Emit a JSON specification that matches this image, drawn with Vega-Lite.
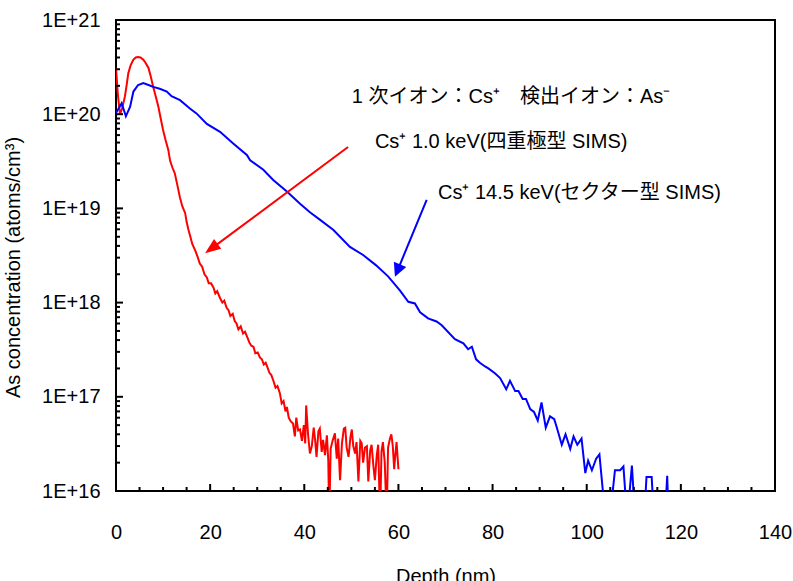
{
  "$schema": "https://vega.github.io/schema/vega-lite/v6.json",
  "width": 659,
  "height": 471,
  "autosize": "none",
  "padding": {"left": 116, "top": 20, "right": 18, "bottom": 90},
  "background": "white",
  "config": {
    "view": {"stroke": "black", "strokeWidth": 2},
    "font": "Liberation Sans, Noto Sans CJK JP"
  },
  "resolve": {"axis": {"x": "independent", "y": "independent"}},
  "datasets": {
    "profiles": [
      {"series": "quad", "depth": 0, "conc": 3.1e20},
      {"series": "quad", "depth": 0.4, "conc": 1.6e20},
      {"series": "quad", "depth": 0.85, "conc": 1.0e20},
      {"series": "quad", "depth": 1.3, "conc": 1.15e20},
      {"series": "quad", "depth": 1.9, "conc": 1.55e20},
      {"series": "quad", "depth": 2.3, "conc": 2.1e20},
      {"series": "quad", "depth": 2.6, "conc": 2.7e20},
      {"series": "quad", "depth": 3.1, "conc": 3.3e20},
      {"series": "quad", "depth": 3.7, "conc": 3.8e20},
      {"series": "quad", "depth": 4.2, "conc": 4.0e20},
      {"series": "quad", "depth": 4.7, "conc": 4.05e20},
      {"series": "quad", "depth": 5.2, "conc": 4.0e20},
      {"series": "quad", "depth": 5.8, "conc": 3.8e20},
      {"series": "quad", "depth": 6.3, "conc": 3.5e20},
      {"series": "quad", "depth": 6.9, "conc": 3.1e20},
      {"series": "quad", "depth": 7.4, "conc": 2.5e20},
      {"series": "quad", "depth": 7.9, "conc": 1.95e20},
      {"series": "quad", "depth": 8.5, "conc": 1.5e20},
      {"series": "quad", "depth": 9.0, "conc": 1.2e20},
      {"series": "quad", "depth": 9.5, "conc": 9.0e19},
      {"series": "quad", "depth": 10.0, "conc": 6.8e19},
      {"series": "quad", "depth": 10.5, "conc": 5.4e19},
      {"series": "quad", "depth": 11.1, "conc": 4.2e19},
      {"series": "quad", "depth": 11.5, "conc": 3.2e19},
      {"series": "quad", "depth": 12.0, "conc": 2.7e19},
      {"series": "quad", "depth": 12.5, "conc": 2.35e19},
      {"series": "quad", "depth": 13.0, "conc": 1.8e19},
      {"series": "quad", "depth": 13.6, "conc": 1.3e19},
      {"series": "quad", "depth": 14.1, "conc": 1.05e19},
      {"series": "quad", "depth": 14.7, "conc": 8.9e18},
      {"series": "quad", "depth": 15.0, "conc": 7.2e18},
      {"series": "quad", "depth": 15.4, "conc": 5.9e18},
      {"series": "quad", "depth": 15.8, "conc": 5.0e18},
      {"series": "quad", "depth": 16.2, "conc": 4.2e18},
      {"series": "quad", "depth": 16.8, "conc": 3.6e18},
      {"series": "quad", "depth": 17.3, "conc": 3.1e18},
      {"series": "quad", "depth": 17.8, "conc": 2.6e18},
      {"series": "quad", "depth": 18.3, "conc": 2.4e18},
      {"series": "quad", "depth": 18.8, "conc": 2.0e18},
      {"series": "quad", "depth": 19.3, "conc": 1.85e18},
      {"series": "quad", "depth": 19.7, "conc": 1.6e18},
      {"series": "quad", "depth": 20.2, "conc": 1.6e18},
      {"series": "quad", "depth": 20.7, "conc": 1.45e18},
      {"series": "quad", "depth": 21.1, "conc": 1.25e18},
      {"series": "quad", "depth": 21.5, "conc": 1.32e18},
      {"series": "quad", "depth": 22.1, "conc": 1.12e18},
      {"series": "quad", "depth": 22.6, "conc": 1.0e18},
      {"series": "quad", "depth": 23.0, "conc": 1.05e18},
      {"series": "quad", "depth": 23.5, "conc": 8.8e17},
      {"series": "quad", "depth": 23.9, "conc": 8.3e17},
      {"series": "quad", "depth": 24.3, "conc": 7.2e17},
      {"series": "quad", "depth": 24.8, "conc": 7.6e17},
      {"series": "quad", "depth": 25.2, "conc": 6.4e17},
      {"series": "quad", "depth": 25.6, "conc": 6.0e17},
      {"series": "quad", "depth": 26.0, "conc": 5.2e17},
      {"series": "quad", "depth": 26.5, "conc": 5.6e17},
      {"series": "quad", "depth": 27.0, "conc": 4.7e17},
      {"series": "quad", "depth": 27.4, "conc": 4.9e17},
      {"series": "quad", "depth": 27.8, "conc": 4.4e17},
      {"series": "quad", "depth": 28.3, "conc": 3.8e17},
      {"series": "quad", "depth": 28.7, "conc": 3.5e17},
      {"series": "quad", "depth": 29.2, "conc": 3.4e17},
      {"series": "quad", "depth": 29.6, "conc": 2.9e17},
      {"series": "quad", "depth": 30.1, "conc": 2.95e17},
      {"series": "quad", "depth": 30.6, "conc": 2.6e17},
      {"series": "quad", "depth": 31.0, "conc": 2.5e17},
      {"series": "quad", "depth": 31.4, "conc": 2.2e17},
      {"series": "quad", "depth": 31.8, "conc": 2.3e17},
      {"series": "quad", "depth": 32.1, "conc": 2.1e17},
      {"series": "quad", "depth": 32.6, "conc": 1.8e17},
      {"series": "quad", "depth": 33.0, "conc": 1.7e17},
      {"series": "quad", "depth": 33.4, "conc": 1.5e17},
      {"series": "quad", "depth": 33.9, "conc": 1.25e17},
      {"series": "quad", "depth": 34.3, "conc": 1.3e17},
      {"series": "quad", "depth": 34.8, "conc": 1.1e17},
      {"series": "quad", "depth": 35.2, "conc": 8.5e16},
      {"series": "quad", "depth": 35.6, "conc": 9.0e16},
      {"series": "quad", "depth": 36.0, "conc": 7.0e16},
      {"series": "quad", "depth": 36.3, "conc": 7.8e16},
      {"series": "quad", "depth": 36.7, "conc": 6.0e16},
      {"series": "quad", "depth": 37.1, "conc": 5.5e16},
      {"series": "quad", "depth": 37.6, "conc": 5.2e16},
      {"series": "quad", "depth": 38.0, "conc": 3.8e16},
      {"series": "quad", "depth": 38.3, "conc": 6.0e16},
      {"series": "quad", "depth": 38.7, "conc": 4.4e16},
      {"series": "quad", "depth": 39.1, "conc": 4.5e16},
      {"series": "quad", "depth": 39.5, "conc": 3.4e16},
      {"series": "quad", "depth": 39.9, "conc": 5.0e16},
      {"series": "quad", "depth": 40.2, "conc": 3.2e16},
      {"series": "quad", "depth": 40.4, "conc": 8.1e16},
      {"series": "quad", "depth": 40.8, "conc": 4.0e16},
      {"series": "quad", "depth": 41.2, "conc": 2.5e16},
      {"series": "quad", "depth": 41.6, "conc": 3.0e16},
      {"series": "quad", "depth": 42.0, "conc": 4.7e16},
      {"series": "quad", "depth": 42.3, "conc": 3.5e16},
      {"series": "quad", "depth": 42.6, "conc": 2.3e16},
      {"series": "quad", "depth": 43.0, "conc": 4.3e16},
      {"series": "quad", "depth": 43.3, "conc": 4.6e16},
      {"series": "quad", "depth": 43.7, "conc": 2.6e16},
      {"series": "quad", "depth": 44.0, "conc": 3.5e16},
      {"series": "quad", "depth": 44.4, "conc": 2.4e16},
      {"series": "quad", "depth": 44.8, "conc": 3.9e16},
      {"series": "quad", "depth": 45.1, "conc": 2.1e16},
      {"series": "quad", "depth": 45.3, "conc": 5e15},
      {"series": "quad", "depth": 45.6, "conc": 2.8e16},
      {"series": "quad", "depth": 46.0, "conc": 3.4e16},
      {"series": "quad", "depth": 46.5, "conc": 4.1e16},
      {"series": "quad", "depth": 46.9, "conc": 2.2e16},
      {"series": "quad", "depth": 47.2, "conc": 3.6e16},
      {"series": "quad", "depth": 47.6, "conc": 1.3e16},
      {"series": "quad", "depth": 48.0, "conc": 3.2e16},
      {"series": "quad", "depth": 48.4, "conc": 4.6e16},
      {"series": "quad", "depth": 48.7, "conc": 4.7e16},
      {"series": "quad", "depth": 49.0, "conc": 2.9e16},
      {"series": "quad", "depth": 49.4, "conc": 2.3e16},
      {"series": "quad", "depth": 49.8, "conc": 3.7e16},
      {"series": "quad", "depth": 50.1, "conc": 4.5e16},
      {"series": "quad", "depth": 50.4, "conc": 3.0e16},
      {"series": "quad", "depth": 50.8, "conc": 2.5e16},
      {"series": "quad", "depth": 51.1, "conc": 3.3e16},
      {"series": "quad", "depth": 51.5, "conc": 1.26e16},
      {"series": "quad", "depth": 51.9, "conc": 3.4e16},
      {"series": "quad", "depth": 52.2, "conc": 3.2e16},
      {"series": "quad", "depth": 52.5, "conc": 2.0e16},
      {"series": "quad", "depth": 52.9, "conc": 2.9e16},
      {"series": "quad", "depth": 53.3, "conc": 3.0e16},
      {"series": "quad", "depth": 53.6, "conc": 1.26e16},
      {"series": "quad", "depth": 54.0, "conc": 2.7e16},
      {"series": "quad", "depth": 54.3, "conc": 3.1e16},
      {"series": "quad", "depth": 54.7, "conc": 1.8e16},
      {"series": "quad", "depth": 55.0, "conc": 1.3e16},
      {"series": "quad", "depth": 55.4, "conc": 2.4e16},
      {"series": "quad", "depth": 55.7, "conc": 3.1e16},
      {"series": "quad", "depth": 56.1, "conc": 5e15},
      {"series": "quad", "depth": 56.4, "conc": 2.6e16},
      {"series": "quad", "depth": 56.7, "conc": 3.3e16},
      {"series": "quad", "depth": 57.1, "conc": 2.0e16},
      {"series": "quad", "depth": 57.5, "conc": 5e15},
      {"series": "quad", "depth": 57.8, "conc": 2.9e16},
      {"series": "quad", "depth": 58.2, "conc": 3.6e16},
      {"series": "quad", "depth": 58.5, "conc": 4.0e16},
      {"series": "quad", "depth": 58.8, "conc": 3.0e16},
      {"series": "quad", "depth": 59.1, "conc": 1.7e16},
      {"series": "quad", "depth": 59.3, "conc": 2.3e16},
      {"series": "quad", "depth": 59.6, "conc": 3.3e16},
      {"series": "quad", "depth": 60.0, "conc": 1.7e16},
      {"series": "sector", "depth": 0, "conc": 1.03e20},
      {"series": "sector", "depth": 1.2, "conc": 1.31e20},
      {"series": "sector", "depth": 2.1, "conc": 9.5e19},
      {"series": "sector", "depth": 3.0, "conc": 1.2e20},
      {"series": "sector", "depth": 3.7, "conc": 1.74e20},
      {"series": "sector", "depth": 4.7, "conc": 2.04e20},
      {"series": "sector", "depth": 5.8, "conc": 2.14e20},
      {"series": "sector", "depth": 6.9, "conc": 2.04e20},
      {"series": "sector", "depth": 7.9, "conc": 1.95e20},
      {"series": "sector", "depth": 9.3, "conc": 1.86e20},
      {"series": "sector", "depth": 10.8, "conc": 1.74e20},
      {"series": "sector", "depth": 11.8, "conc": 1.55e20},
      {"series": "sector", "depth": 13.6, "conc": 1.41e20},
      {"series": "sector", "depth": 15.7, "conc": 1.15e20},
      {"series": "sector", "depth": 17.1, "conc": 1.02e20},
      {"series": "sector", "depth": 19.3, "conc": 7.9e19},
      {"series": "sector", "depth": 22.1, "conc": 6.5e19},
      {"series": "sector", "depth": 24.9, "conc": 4.9e19},
      {"series": "sector", "depth": 27.8, "conc": 3.7e19},
      {"series": "sector", "depth": 28.5, "conc": 3.24e19},
      {"series": "sector", "depth": 31.3, "conc": 2.57e19},
      {"series": "sector", "depth": 33.4, "conc": 2.0e19},
      {"series": "sector", "depth": 36.3, "conc": 1.51e19},
      {"series": "sector", "depth": 39.1, "conc": 1.12e19},
      {"series": "sector", "depth": 41.2, "conc": 9.1e18},
      {"series": "sector", "depth": 43.3, "conc": 7.6e18},
      {"series": "sector", "depth": 46.2, "conc": 5.9e18},
      {"series": "sector", "depth": 49.7, "conc": 3.9e18},
      {"series": "sector", "depth": 52.5, "conc": 3.2e18},
      {"series": "sector", "depth": 55.2, "conc": 2.5e18},
      {"series": "sector", "depth": 57.8, "conc": 1.9e18},
      {"series": "sector", "depth": 60.3, "conc": 1.35e18},
      {"series": "sector", "depth": 62.1, "conc": 1.02e18},
      {"series": "sector", "depth": 63.5, "conc": 9.8e17},
      {"series": "sector", "depth": 64.6, "conc": 7.9e17},
      {"series": "sector", "depth": 66.3, "conc": 6.8e17},
      {"series": "sector", "depth": 68.1, "conc": 6.3e17},
      {"series": "sector", "depth": 69.2, "conc": 5.75e17},
      {"series": "sector", "depth": 72.0, "conc": 4.1e17},
      {"series": "sector", "depth": 73.8, "conc": 3.7e17},
      {"series": "sector", "depth": 74.8, "conc": 3.2e17},
      {"series": "sector", "depth": 75.6, "conc": 3.4e17},
      {"series": "sector", "depth": 76.5, "conc": 2.5e17},
      {"series": "sector", "depth": 77.3, "conc": 2.3e17},
      {"series": "sector", "depth": 78.4, "conc": 2.1e17},
      {"series": "sector", "depth": 79.1, "conc": 2.0e17},
      {"series": "sector", "depth": 80.5, "conc": 1.78e17},
      {"series": "sector", "depth": 81.6, "conc": 1.58e17},
      {"series": "sector", "depth": 82.9, "conc": 1.2e17},
      {"series": "sector", "depth": 83.7, "conc": 1.48e17},
      {"series": "sector", "depth": 84.8, "conc": 1.15e17},
      {"series": "sector", "depth": 85.5, "conc": 1.15e17},
      {"series": "sector", "depth": 86.4, "conc": 9.5e16},
      {"series": "sector", "depth": 87.1, "conc": 9.5e16},
      {"series": "sector", "depth": 88.0, "conc": 7.4e16},
      {"series": "sector", "depth": 88.8, "conc": 6.9e16},
      {"series": "sector", "depth": 89.6, "conc": 5.6e16},
      {"series": "sector", "depth": 90.4, "conc": 8.7e16},
      {"series": "sector", "depth": 91.3, "conc": 4.7e16},
      {"series": "sector", "depth": 92.2, "conc": 6.2e16},
      {"series": "sector", "depth": 93.1, "conc": 5.8e16},
      {"series": "sector", "depth": 93.6, "conc": 4.8e16},
      {"series": "sector", "depth": 94.7, "conc": 3.1e16},
      {"series": "sector", "depth": 95.5, "conc": 4.0e16},
      {"series": "sector", "depth": 96.5, "conc": 2.8e16},
      {"series": "sector", "depth": 97.2, "conc": 3.8e16},
      {"series": "sector", "depth": 98.0, "conc": 3.1e16},
      {"series": "sector", "depth": 98.9, "conc": 3.6e16},
      {"series": "sector", "depth": 99.7, "conc": 1.55e16},
      {"series": "sector", "depth": 100.3, "conc": 2.1e16},
      {"series": "sector", "depth": 101.1, "conc": 1.66e16},
      {"series": "sector", "depth": 102.0, "conc": 2.2e16},
      {"series": "sector", "depth": 102.7, "conc": 2.45e16},
      {"series": "sector", "depth": 104.0, "conc": 5e15},
      {"series": "sector", "depth": 104.9, "conc": 5e15},
      {"series": "sector", "depth": 106.0, "conc": 1.66e16},
      {"series": "sector", "depth": 107.1, "conc": 1.66e16},
      {"series": "sector", "depth": 107.8, "conc": 1.82e16},
      {"series": "sector", "depth": 108.6, "conc": 5e15},
      {"series": "sector", "depth": 109.6, "conc": 1.86e16},
      {"series": "sector", "depth": 110.3, "conc": 5e15},
      {"series": "sector", "depth": 112.2, "conc": 5e15},
      {"series": "sector", "depth": 112.7, "conc": 1.41e16},
      {"series": "sector", "depth": 113.8, "conc": 1.41e16},
      {"series": "sector", "depth": 114.3, "conc": 5e15},
      {"series": "sector", "depth": 116.6, "conc": 5e15},
      {"series": "sector", "depth": 117.1, "conc": 1.45e16},
      {"series": "sector", "depth": 117.4, "conc": 5e15},
      {"series": "sector", "depth": 118.0, "conc": 5e15}
    ],
    "arrows": [
      {"series": "quad", "depth": 49.3, "conc": 4.49e19, "depth2": 20.25, "conc2": 3.74e18},
      {"series": "sector", "depth": 66.0, "conc": 1.23e19, "depth2": 59.8, "conc2": 2.19e18}
    ],
    "labels": [
      {"label": "1 次イオン：Cs⁺　検出イオン：As⁻", "depth": 50.1, "conc": 1.51e20},
      {"label": "Cs⁺ 1.0 keV(四重極型 SIMS)", "depth": 55.0, "conc": 5.07e19},
      {"label": "Cs⁺ 14.5 keV(セクター型 SIMS)", "depth": 68.4, "conc": 1.46e19}
    ],
    "xticks": [
      {"depth": 0, "kind": "major"}, {"depth": 5, "kind": "minor"}, {"depth": 10, "kind": "minor"}, {"depth": 15, "kind": "minor"},
      {"depth": 20, "kind": "major"}, {"depth": 25, "kind": "minor"}, {"depth": 30, "kind": "minor"}, {"depth": 35, "kind": "minor"},
      {"depth": 40, "kind": "major"}, {"depth": 45, "kind": "minor"}, {"depth": 50, "kind": "minor"}, {"depth": 55, "kind": "minor"},
      {"depth": 60, "kind": "major"}, {"depth": 65, "kind": "minor"}, {"depth": 70, "kind": "minor"}, {"depth": 75, "kind": "minor"},
      {"depth": 80, "kind": "major"}, {"depth": 85, "kind": "minor"}, {"depth": 90, "kind": "minor"}, {"depth": 95, "kind": "minor"},
      {"depth": 100, "kind": "major"}, {"depth": 105, "kind": "minor"}, {"depth": 110, "kind": "minor"}, {"depth": 115, "kind": "minor"},
      {"depth": 120, "kind": "major"}, {"depth": 125, "kind": "minor"}, {"depth": 130, "kind": "minor"}, {"depth": 135, "kind": "minor"},
      {"depth": 140, "kind": "major"}
    ],
    "yticks": [
      {"conc": 1e16, "kind": "major"}, {"conc": 2e16, "kind": "minor"}, {"conc": 3e16, "kind": "minor"}, {"conc": 4e16, "kind": "minor"}, {"conc": 5e16, "kind": "minor"}, {"conc": 6e16, "kind": "minor"}, {"conc": 7e16, "kind": "minor"}, {"conc": 8e16, "kind": "minor"}, {"conc": 9e16, "kind": "minor"},
      {"conc": 1e17, "kind": "major"}, {"conc": 2e17, "kind": "minor"}, {"conc": 3e17, "kind": "minor"}, {"conc": 4e17, "kind": "minor"}, {"conc": 5e17, "kind": "minor"}, {"conc": 6e17, "kind": "minor"}, {"conc": 7e17, "kind": "minor"}, {"conc": 8e17, "kind": "minor"}, {"conc": 9e17, "kind": "minor"},
      {"conc": 1e18, "kind": "major"}, {"conc": 2e18, "kind": "minor"}, {"conc": 3e18, "kind": "minor"}, {"conc": 4e18, "kind": "minor"}, {"conc": 5e18, "kind": "minor"}, {"conc": 6e18, "kind": "minor"}, {"conc": 7e18, "kind": "minor"}, {"conc": 8e18, "kind": "minor"}, {"conc": 9e18, "kind": "minor"},
      {"conc": 1e19, "kind": "major"}, {"conc": 2e19, "kind": "minor"}, {"conc": 3e19, "kind": "minor"}, {"conc": 4e19, "kind": "minor"}, {"conc": 5e19, "kind": "minor"}, {"conc": 6e19, "kind": "minor"}, {"conc": 7e19, "kind": "minor"}, {"conc": 8e19, "kind": "minor"}, {"conc": 9e19, "kind": "minor"},
      {"conc": 1e20, "kind": "major"}, {"conc": 2e20, "kind": "minor"}, {"conc": 3e20, "kind": "minor"}, {"conc": 4e20, "kind": "minor"}, {"conc": 5e20, "kind": "minor"}, {"conc": 6e20, "kind": "minor"}, {"conc": 7e20, "kind": "minor"}, {"conc": 8e20, "kind": "minor"}, {"conc": 9e20, "kind": "minor"},
      {"conc": 1e21, "kind": "major"}
    ]
  },
  "layer": [
    {
      "data": {"name": "profiles"},
      "mark": {"type": "line", "strokeWidth": 2, "clip": true},
      "encoding": {
        "x": {
          "field": "depth", "type": "quantitative",
          "scale": {"domain": [0, 140], "nice": false},
          "axis": {
            "orient": "bottom",
            "title": "Depth (nm)",
            "values": [0, 20, 40, 60, 80, 100, 120, 140],
            "labelFlush": false,
            "labelOverlap": false,
            "grid": false,
            "domain": false,
            "ticks": false,
            "labelPadding": 31,
            "labelFontSize": 20,
            "labelColor": "black",
            "labelFont": "Liberation Sans",
            "titleFontSize": 20,
            "titleFontWeight": "normal",
            "titleColor": "black",
            "titleFont": "Liberation Sans",
            "titlePadding": 24
          }
        },
        "y": {
          "field": "conc", "type": "quantitative",
          "scale": {"type": "log", "domain": [1e16, 1e21], "nice": false},
          "axis": {
            "orient": "left",
            "title": "As concentration (atoms/cm³)",
            "values": [1e16, 1e17, 1e18, 1e19, 1e20, 1e21],
            "labelExpr": "'1E+' + round(log(datum.value)/LN10)",
            "labelFlush": false,
            "labelOverlap": false,
            "grid": false,
            "domain": false,
            "ticks": false,
            "labelPadding": 16,
            "labelFontSize": 20,
            "labelColor": "black",
            "labelFont": "Liberation Sans",
            "titleFontSize": 20,
            "titleFontWeight": "normal",
            "titleColor": "black",
            "titleFont": "Liberation Sans",
            "titlePadding": 18,
            "titleY": 247
          }
        },
        "color": {
          "field": "series", "type": "nominal",
          "scale": {"domain": ["quad", "sector"], "range": ["#FF0000", "#0000FF"]},
          "legend": null
        },
        "order": {"field": "depth", "type": "quantitative"}
      }
    },
    {
      "data": {"name": "xticks"},
      "transform": [{"filter": "datum.kind == 'major'"}],
      "mark": {"type": "tick", "orient": "vertical", "size": 7, "thickness": 2, "yOffset": -3.5, "color": "black", "opacity": 1},
      "encoding": {
        "x": {"field": "depth", "type": "quantitative", "axis": null},
        "y": {"datum": 1e16, "type": "quantitative", "axis": null}
      }
    },
    {
      "data": {"name": "xticks"},
      "transform": [{"filter": "datum.kind == 'minor'"}],
      "mark": {"type": "tick", "orient": "vertical", "size": 4, "thickness": 2, "yOffset": -2, "color": "black", "opacity": 1},
      "encoding": {
        "x": {"field": "depth", "type": "quantitative", "axis": null},
        "y": {"datum": 1e16, "type": "quantitative", "axis": null}
      }
    },
    {
      "data": {"name": "yticks"},
      "transform": [{"filter": "datum.kind == 'major'"}],
      "mark": {"type": "tick", "orient": "horizontal", "size": 7, "thickness": 2, "xOffset": 3.5, "color": "black", "opacity": 1},
      "encoding": {
        "x": {"datum": 0, "type": "quantitative", "axis": null},
        "y": {"field": "conc", "type": "quantitative", "axis": null}
      }
    },
    {
      "data": {"name": "yticks"},
      "transform": [{"filter": "datum.kind == 'minor'"}],
      "mark": {"type": "tick", "orient": "horizontal", "size": 4, "thickness": 2, "xOffset": 2, "color": "black", "opacity": 1},
      "encoding": {
        "x": {"datum": 0, "type": "quantitative", "axis": null},
        "y": {"field": "conc", "type": "quantitative", "axis": null}
      }
    },
    {
      "data": {"name": "arrows"},
      "mark": {"type": "rule", "strokeWidth": 2},
      "encoding": {
        "x": {"field": "depth", "type": "quantitative", "axis": null},
        "y": {"field": "conc", "type": "quantitative", "axis": null},
        "x2": {"field": "depth2"},
        "y2": {"field": "conc2"},
        "color": {"field": "series", "type": "nominal", "legend": null}
      }
    },
    {
      "data": {"name": "arrows"},
      "transform": [{"filter": "datum.series == 'quad'"}],
      "mark": {"type": "point", "shape": "M0,-1L0.77,1L-0.77,1Z", "filled": true, "opacity": 1, "size": 246, "angle": 233.4, "color": "#FF0000"},
      "encoding": {
        "x": {"field": "depth2", "type": "quantitative", "axis": null},
        "y": {"field": "conc2", "type": "quantitative", "axis": null}
      }
    },
    {
      "data": {"name": "arrows"},
      "transform": [{"filter": "datum.series == 'sector'"}],
      "mark": {"type": "point", "shape": "M0,-1L1,1L-1,1Z", "filled": true, "opacity": 1, "size": 180, "angle": 202.5, "color": "#0000FF"},
      "encoding": {
        "x": {"field": "depth2", "type": "quantitative", "axis": null},
        "y": {"field": "conc2", "type": "quantitative", "axis": null}
      }
    },
    {
      "data": {"name": "labels"},
      "mark": {"type": "text", "align": "left", "baseline": "middle", "fontSize": 20, "font": "Liberation Sans, Noto Sans CJK JP", "color": "black"},
      "encoding": {
        "x": {"field": "depth", "type": "quantitative", "axis": null},
        "y": {"field": "conc", "type": "quantitative", "axis": null},
        "text": {"field": "label"}
      }
    }
  ]
}
